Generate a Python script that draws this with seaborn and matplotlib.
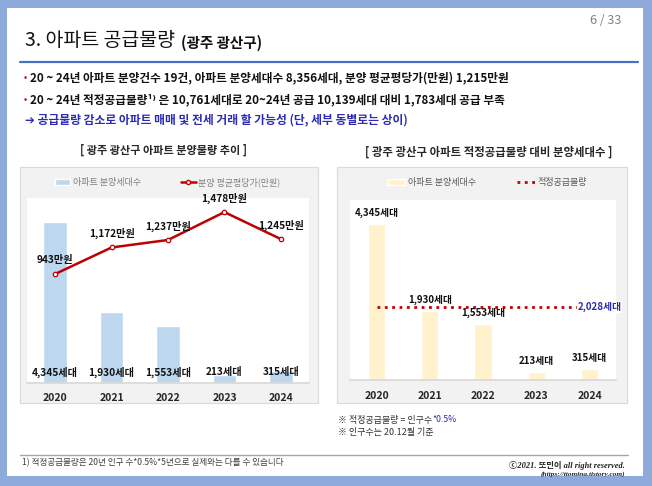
import matplotlib
matplotlib.use('Agg')
import matplotlib.pyplot as plt
import seaborn as sns
import pandas as pd
from matplotlib.patches import Rectangle, Patch
from matplotlib.lines import Line2D

# ---------------- data ----------------
years = ['2020', '2021', '2022', '2023', '2024']
units = [4345, 1930, 1553, 213, 315]
unit_labels = ['4,345세대', '1,930세대', '1,553세대', '213세대', '315세대']
price = [943, 1172, 1237, 1478, 1245]
price_labels = ['943만원', '1,172만원', '1,237만원', '1,478만원', '1,245만원']
proper = [2028, 2028, 2028, 2028, 2028]
proper_label = '2,028세대'
legend_left = ['아파트 분양세대수', '분양 평균평당가(만원)']
legend_right = ['아파트 분양세대수', '적정공급물량']

df = pd.DataFrame({'year': years, 'units': units, 'price': price, 'proper': proper})

sns.set_theme(style='white')
plt.rcParams['font.family'] = ['Noto Sans CJK KR', 'DejaVu Sans']

W, H = 652, 486
fig = plt.figure(figsize=(6.52, 4.86), dpi=100)
fig.patch.set_facecolor('#8EA9DB')


def fx(x):
    return x / W


def fy(y):
    return 1 - y / H


def box(x0, y0, x1, y1, **kw):
    fig.add_artist(Rectangle((fx(x0), fy(y1)), (x1 - x0) / W, (y1 - y0) / H,
                             transform=fig.transFigure, **kw))


def txt(x, y, s, **kw):
    kw.setdefault('va', 'center')
    return fig.text(fx(x), fy(y), s, **kw)


def hline(x0, x1, y, **kw):
    fig.add_artist(Line2D([fx(x0), fx(x1)], [fy(y), fy(y)], transform=fig.transFigure, **kw))


# page
box(7, 8, 643, 476, facecolor='white', edgecolor='none', zorder=-3)
# chart frames
box(20, 167, 318, 403, facecolor='#F2F2F2', edgecolor='#D9D9D9', lw=0.8, zorder=-2)
box(337, 167, 627, 403, facecolor='#F2F2F2', edgecolor='#D9D9D9', lw=0.8, zorder=-2)

# header
txt(621, 21, '6 / 33', ha='right', fontsize=9, color='#808080')
txt(25, 41, '3. 아파트 공급물량', fontsize=14, color='#111111')
txt(181, 43, '(광주 광산구)', fontsize=10.5, fontweight='bold', color='#111111')
hline(20, 638, 62, color='#4472C4', lw=1.6)

txt(24, 78, '•', fontsize=7, color='#C00000')
txt(30, 78, '20 ~ 24년 아파트 분양건수 19건, 아파트 분양세대수 8,356세대, 분양 평균평당가(만원) 1,215만원',
    fontsize=8.4, fontweight='bold', color='#111111')
txt(24, 100, '•', fontsize=7, color='#C00000')
txt(30, 100, '20 ~ 24년 적정공급물량¹⁾ 은 10,761세대로 20~24년 공급 10,139세대 대비 1,783세대 공급 부족',
    fontsize=8.4, fontweight='bold', color='#111111')
txt(25, 120, '➔ 공급물량 감소로 아파트 매매 및 전세 거래 할 가능성 (단, 세부 동별로는 상이)',
    fontsize=8.5, fontweight='bold', color='#2B2BB5')

# chart titles
txt(164, 150, '[ 광주 광산구 아파트 분양물량 추이 ]', ha='center', fontsize=8, fontweight='bold')
txt(489, 152, '[ 광주 광산구 아파트 적정공급물량 대비 분양세대수 ]', ha='center', fontsize=8.2, fontweight='bold')

# ---------------- left chart ----------------
ax1 = fig.add_axes([fx(27), fy(383), (309 - 27) / W, (383 - 198) / H])
sns.barplot(data=df, x='year', y='units', color='#BDD7EE', width=0.42, saturation=1, ax=ax1)
ax1.set_ylim(0, 5000)
ax1.set_xlim(-0.5, 4.5)
ax1.set_facecolor('white')
for s in ['top', 'left', 'right']:
    ax1.spines[s].set_visible(False)
ax1.spines['bottom'].set_color('#D9D9D9')
ax1.set_yticks([])
ax1.set_xlabel('')
ax1.set_ylabel('')
ax1.tick_params(axis='x', length=0, pad=7, labelsize=7.5)
for t in ax1.get_xticklabels():
    t.set_fontweight('bold')
for i, lab in enumerate(unit_labels):
    ax1.text(i, 300, lab, ha='center', va='center', fontsize=7.3, fontweight='bold', color='#111111')

ax1b = ax1.twinx()
sns.pointplot(data=df, x='year', y='price', color='#C00000', markers='o', ax=ax1b,
              linewidth=1.8, markersize=3.2)
for ln in ax1b.lines:
    ln.set_markerfacecolor('white')
    ln.set_markeredgewidth(0.9)
ax1b.set_ylim(0, 1600)
ax1b.set_xlim(-0.5, 4.5)
for s in ax1b.spines.values():
    s.set_visible(False)
ax1b.set_yticks([])
ax1b.set_ylabel('')
ax1b.set_xlabel('')
for i, (v, lab) in enumerate(zip(price, price_labels)):
    ax1b.annotate(lab, (i, v), xytext=(0, 14), textcoords='offset pixels', ha='center', va='center',
                  fontsize=7.3, fontweight='bold', color='#111111')

fig.legend([Patch(facecolor='#BDD7EE'),
            Line2D([], [], color='#C00000', lw=1.8, marker='o', mfc='white', ms=3)],
           legend_left, loc='center', bbox_to_anchor=(fx(168), fy(182)), ncol=2, frameon=False,
           fontsize=6.5, labelcolor='#7F7F7F', handlelength=1.6, handleheight=0.6,
           columnspacing=4.5, handletextpad=0.3)

# ---------------- right chart ----------------
ax2 = fig.add_axes([fx(350), fy(380), (616 - 350) / W, (380 - 200) / H])
sns.barplot(data=df, x='year', y='units', color='#FFF2CC', width=0.32, saturation=1, ax=ax2)
sns.pointplot(data=df, x='year', y='proper', color='#C00000', markers='', linestyles=':',
              linewidth=2, ax=ax2)
ax2.set_ylim(0, 5000)
ax2.set_xlim(-0.5, 4.5)
ax2.set_facecolor('white')
for s in ['top', 'left', 'right']:
    ax2.spines[s].set_visible(False)
ax2.spines['bottom'].set_color('#D9D9D9')
ax2.set_yticks([])
ax2.set_xlabel('')
ax2.set_ylabel('')
ax2.tick_params(axis='x', length=0, pad=8, labelsize=7.5)
for t in ax2.get_xticklabels():
    t.set_fontweight('bold')
for i, (v, lab) in enumerate(zip(units, unit_labels)):
    ax2.annotate(lab, (i, v), xytext=(0, 11), textcoords='offset pixels', ha='center', va='center',
                 fontsize=7, fontweight='bold', color='#111111')
ax2.annotate(proper_label, (4, proper[-1]), xytext=(10, 0), textcoords='offset pixels',
             ha='center', va='center', fontsize=7, fontweight='bold', color='#2E2EA8',
             bbox=dict(facecolor='white', edgecolor='none', pad=0.5), annotation_clip=False)

fig.legend([Patch(facecolor='#FFF2CC'),
            Line2D([], [], color='#C00000', lw=2, ls=':')],
           legend_right, loc='center', bbox_to_anchor=(fx(487), fy(183)), ncol=2, frameon=False,
           fontsize=6.5, labelcolor='#595959', handlelength=2.0, handleheight=0.6,
           columnspacing=4.5, handletextpad=0.3)

# notes
txt(338, 420, '※ 적정공급물량 = 인구수', fontsize=6.5, color='#333333')
txt(432, 420, '*0.5%', fontsize=6.3, color='#2E2EA8')
txt(338, 432, '※ 인구수는 20.12월 기준', fontsize=6.5, color='#333333')

# footer
hline(20, 628, 455, color='#A6A6A6', lw=1)
txt(22, 463, '1) 적정공급물량은 20년 인구 수*0.5%*5년으로 실제와는 다를 수 있습니다', fontsize=6.2, color='#404040')
txt(625, 465, 'ⓒ2021. 또민이 all right reserved.', ha='right', fontsize=6, style='italic', fontweight='bold',
    family=['Liberation Serif', 'Noto Sans CJK KR'], color='#222222')
txt(625, 474, '(https://ttomina.tistory.com)', ha='right', fontsize=5.3, style='italic', fontweight='bold',
    family=['Liberation Serif', 'Noto Sans CJK KR'], color='#222222')

fig.savefig('out.png', dpi=100, facecolor=fig.get_facecolor())
